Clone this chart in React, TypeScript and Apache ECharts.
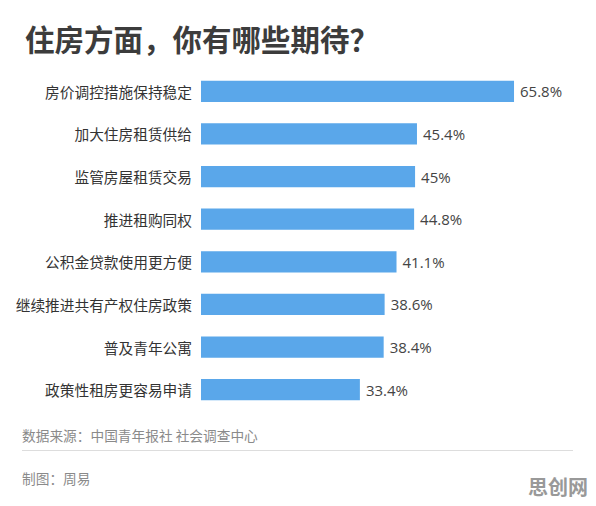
import React, { useEffect, useRef } from "react";
import * as echarts from "echarts";

const categories = [
  "房价调控措施保持稳定",
  "加大住房租赁供给",
  "监管房屋租赁交易",
  "推进租购同权",
  "公积金贷款使用更方便",
  "继续推进共有产权住房政策",
  "普及青年公寓",
  "政策性租房更容易申请",
];
const values = [65.8, 45.4, 45, 44.8, 41.1, 38.6, 38.4, 33.4];

const titleText = "住房方面，你有哪些期待？";
const sourceText = "数据来源：中国青年报社 社会调查中心";
const authorText = "制图：周易";
const watermarkText = "思创网";

const FONT = '"Noto Sans CJK SC", "Noto Sans", sans-serif';

export default function App() {
  const ref = useRef<HTMLDivElement>(null);
  useEffect(() => {
    if (!ref.current) return;
    const chart = echarts.init(ref.current, null, { renderer: "svg" });
    chart.setOption({
      animation: false,
      backgroundColor: "#ffffff",
      title: {
        text: titleText,
        left: 20,
        top: 18,
        textStyle: {
          fontFamily: FONT,
          fontSize: 29.5,
          fontWeight: "bold",
          color: "#3c3c3c",
        },
      },
      grid: {
        left: 201,
        right: 62,
        top: 70,
        bottom: 95,
        containLabel: false,
      },
      xAxis: {
        type: "value",
        min: 0,
        max: 70,
        show: false,
      },
      yAxis: {
        type: "category",
        data: categories,
        inverse: true,
        axisLine: { show: false },
        axisTick: { show: false },
        axisLabel: {
          margin: 9,
          fontFamily: FONT,
          fontSize: 14.7,
          color: "#333333",
        },
      },
      series: [
        {
          type: "bar",
          data: values,
          barCategoryGap: "50%",
          itemStyle: { color: "#5aa7ea" },
          label: {
            show: true,
            position: "right",
            distance: 6,
            formatter: "{c}%",
            fontFamily: '"Open Sans", "Noto Sans", sans-serif',
            fontSize: 15,
            color: "#444444",
          },
        },
      ],
      graphic: [
        {
          type: "text",
          left: 22,
          top: 428,
          style: {
            text: sourceText,
            fontFamily: FONT,
            fontSize: 13.7,
            fill: "#8a8a8a",
          },
        },
        {
          type: "line",
          shape: { x1: 22, y1: 450.5, x2: 573, y2: 450.5 },
          style: { stroke: "#dddddd", lineWidth: 1 },
        },
        {
          type: "text",
          left: 22,
          top: 471,
          style: {
            text: authorText,
            fontFamily: FONT,
            fontSize: 13.7,
            fill: "#8a8a8a",
          },
        },
        {
          type: "text",
          right: 8,
          top: 476,
          style: {
            text: watermarkText,
            fontFamily: FONT,
            fontSize: 20,
            fontWeight: "bold",
            fill: "#999999",
          },
        },
      ],
    });
    return () => chart.dispose();
  }, []);
  return (
    <div
      ref={ref}
      style={{ position: "fixed", left: 0, top: 0, width: 596, height: 506 }}
    />
  );
}
